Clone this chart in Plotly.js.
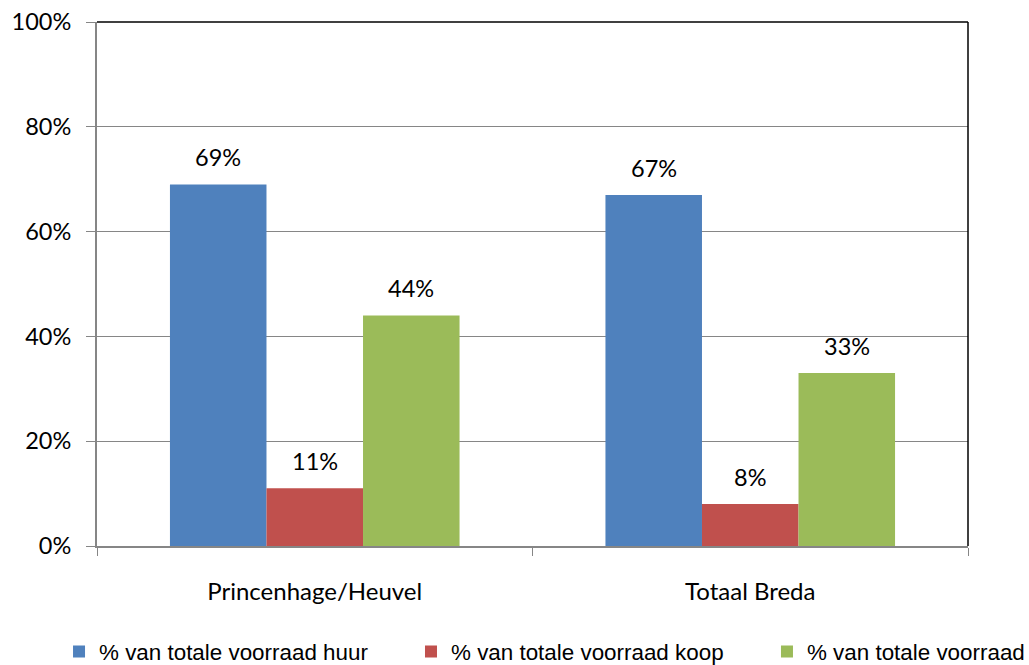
<!DOCTYPE html>
<html>
<head>
<meta charset="utf-8">
<script src="https://cdn.plot.ly/plotly-3.0.1.min.js"></script>
<style>html,body{margin:0;padding:0;background:#fff;overflow:hidden;} #chart{width:1029px;height:665px;}</style>
</head>
<body>
<div id="chart"></div>
<script>
const categories = ["Princenhage/Heuvel", "Totaal Breda"];
const seriesNames = ["% van totale voorraad huur", "% van totale voorraad koop", "% van totale voorraad"];
const huur = [69, 67];
const koop = [11, 8];
const overig = [44, 33];
const yTickVals = [0, 20, 40, 60, 80, 100];
const yTickText = ["0%", "20%", "40%", "60%", "80%", "100%"];

const colors = ["#4F81BD", "#C0504D", "#9BBB59"];
const seriesValues = [huur, koop, overig];
const legendIds = ["legend", "legend2", "legend3"];
const legendX = [-0.0436, 0.3605, 0.7692];
const bargap = 0.335;
const barW = (1 - bargap) / 3;
const labelFont = {family: "Lato, 'Noto Sans', sans-serif", size: 23.5, color: "#000"};

const traces = seriesValues.map((vals, k) => ({
  type: "bar",
  name: seriesNames[k],
  legend: legendIds[k],
  x: categories,
  y: vals,
  marker: {color: colors[k], line: {width: 0}},
  hoverinfo: "skip"
}));

const annotations = [];
seriesValues.forEach((vals, k) => {
  vals.forEach((v, i) => {
    annotations.push({
      x: i + (k - 1) * barW,
      y: v,
      xref: "x", yref: "y",
      text: v + "%",
      showarrow: false,
      yanchor: "middle",
      yshift: 27,
      font: labelFont
    });
  });
});

function legendCfg(k) {
  return {
    orientation: "h", x: legendX[k], xanchor: "left", y: -0.202, yanchor: "middle",
    font: {family: "'Liberation Sans', Arial, sans-serif", size: 22.4, color: "#000"},
    bgcolor: "rgba(0,0,0,0)", borderwidth: 0, itemclick: false, itemdoubleclick: false
  };
}

const layout = {
  width: 1029, height: 665,
  margin: {l: 97, r: 61, t: 22, b: 119, autoexpand: false},
  paper_bgcolor: "#fff", plot_bgcolor: "#fff",
  barmode: "group", bargap: bargap, bargroupgap: 0,
  showlegend: true,
  legend: legendCfg(0),
  legend2: legendCfg(1),
  legend3: legendCfg(2),
  xaxis: {
    type: "category",
    showline: true, linecolor: "#868686", linewidth: 2,
    ticks: "outside", tickson: "boundaries", ticklen: 8, tickcolor: "#868686", tickwidth: 1,
    ticklabelstandoff: 23,
    tickfont: {family: "Lato, 'Noto Sans', sans-serif", size: 24, color: "#000"},
    showgrid: false, zeroline: false, fixedrange: true
  },
  yaxis: {
    range: [0, 100],
    tickvals: yTickVals, ticktext: yTickText,
    showline: true, linecolor: "#868686", linewidth: 2,
    ticks: "outside", ticklen: 9, tickcolor: "#868686", tickwidth: 1,
    ticklabelstandoff: 10,
    tickfont: labelFont,
    showgrid: true, gridcolor: "#868686", gridwidth: 1,
    zeroline: false, fixedrange: true
  },
  shapes: [
    {type: "line", xref: "paper", yref: "paper", x0: 0, x1: 1, y0: 1, y1: 1, line: {color: "#000", width: 1.5}},
    {type: "line", xref: "paper", yref: "paper", x0: 1, x1: 1, y0: 0, y1: 1, line: {color: "#000", width: 1.5}}
  ],
  annotations: annotations
};

Plotly.newPlot("chart", traces, layout, {displayModeBar: false, staticPlot: true});
</script>
</body>
</html>
